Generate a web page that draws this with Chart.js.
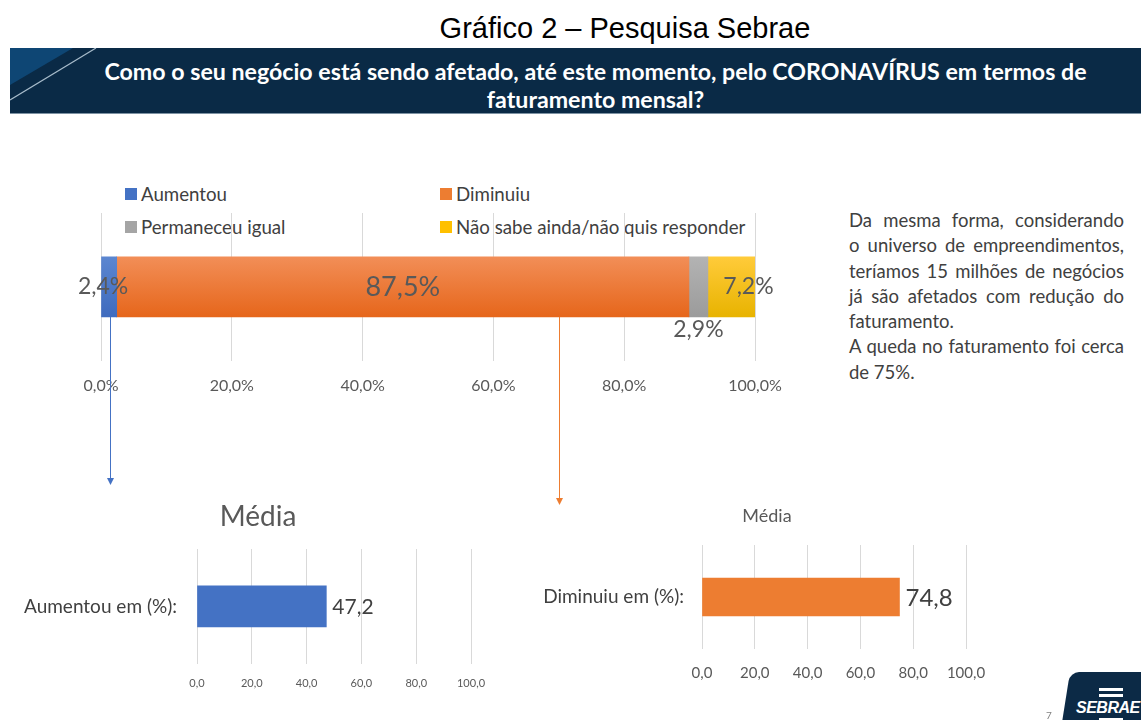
<!DOCTYPE html>
<html lang="pt-BR">
<head>
<meta charset="utf-8">
<script src="https://cdn.jsdelivr.net/npm/chart.js@4.4.1/dist/chart.umd.min.js"></script>
<style>
    body { margin: 0; width: 1141px; height: 720px; background: #fff; position: relative; overflow: hidden; font-family: Lato, sans-serif; color: #404040; }
    .abs { position: absolute; }
    #pageTitle { left: 0; top: 12px; width: 1250px; text-align: center; font: 29px "Liberation Sans", Arial, sans-serif; color: #000; }
    #banner { left: 10px; top: 48px; width: 1131px; height: 65px; background: #0a2a46; overflow: hidden; border-bottom: 1px solid #7d92a3; }
    #banner svg { position: absolute; left: 0; top: 0; }
    #banner .txt { position: absolute; left: 40px; right: 0; top: 9px; text-align: center; color: #fff; font-weight: 700; font-size: 23.2px; line-height: 28px; white-space: nowrap; }
    #legenda { left: 125px; top: 182px; display: grid; grid-template-columns: 315px 320px; row-gap: 9px; font-size: 18.7px; }
    #legenda div { display: flex; align-items: center; height: 24px; white-space: nowrap; }
    #legenda span.box { width: 12px; height: 12px; margin-right: 4px; display: inline-block; }
    #nota { left: 849px; top: 208px; width: 275px; font-size: 18.5px; line-height: 25.3px; white-space: nowrap; }
    #nota .j { text-align: justify; text-align-last: justify; }
    .media { color: #595959; text-align: center; }
    #logo { left: 1070px; top: 672px; width: 90px; height: 60px; background: #0c2a46; border-top-left-radius: 9px; transform: skewX(-9deg); transform-origin: top left; }
    .bar { background: #fff; height: 3px; }
    #sebrae { left: 1076px; top: 699px; color: #fff; font: italic 700 16px "Liberation Sans", Arial, sans-serif; letter-spacing: -0.5px; }
    #pagina { left: 1046px; top: 709px; font-size: 10px; color: #808080; }
</style>
</head>
<body>
<div id="pageTitle" class="abs">Gráfico 2 – Pesquisa Sebrae</div>
<div id="banner" class="abs">
    <svg width="120" height="65">
        <polygon points="0,0 63,0 0,37" fill="#0e4674"/>
        <line x1="0" y1="52" x2="86" y2="0" stroke="#a8bccb" stroke-width="1.2"/>
    </svg>
    <div class="txt">Como o seu negócio está sendo afetado, até este momento, pelo CORONAVÍRUS em termos de<br>faturamento mensal?</div>
</div>
<div id="legenda" class="abs"></div>
<div id="nota" class="abs">
    <div class="j">Da mesma forma, considerando</div>
    <div class="j">o universo de empreendimentos,</div>
    <div class="j">teríamos 15 milhões de negócios</div>
    <div class="j">já são afetados com redução do</div>
    <div>faturamento.</div>
    <div class="j">A queda no faturamento foi cerca</div>
    <div>de 75%.</div>
</div>

<canvas id="principal" class="abs" style="left:0;top:170px" width="800" height="350"></canvas>
<div class="abs media" style="left:0;top:498px;width:516px;font-size:28px;line-height:34px">Média</div>
<div class="abs media" style="left:540px;top:504px;width:454px;font-size:18px;line-height:22px">Média</div>
<canvas id="mediaAum" class="abs" style="left:0;top:495px" width="516" height="225"></canvas>
<canvas id="mediaDim" class="abs" style="left:520px;top:495px" width="494" height="225"></canvas>

<div id="pagina" class="abs">7</div>
<div id="logo" class="abs"></div>
<div class="abs bar" style="left:1099px;top:688px;width:24px"></div>
<div class="abs bar" style="left:1099px;top:694px;width:24px"></div>
<div id="sebrae" class="abs">SEBRAE</div>
<div class="abs bar" style="left:1099px;top:718px;width:24px"></div>

<script>
const categorias = ['Aumentou', 'Diminuiu', 'Permaneceu igual', 'Não sabe ainda/não quis responder'];
const percentuais = [2.4, 87.5, 2.9, 7.2];
const ticksPct = [0, 20, 40, 60, 80, 100];

const aumentouLabel = ['Aumentou em (%):'];
const aumentouMedia = [47.2];
const diminuiuLabel = ['Diminuiu em (%):'];
const diminuiuMedia = [74.8];

// onde saem as setas (em % do eixo)
const setas = [1.3, 70];

const cores = ['#4472C4', '#ED7D31', '#A5A5A5', '#FFC000'];
const claros = ['#5B86D0', '#F28E57', '#B3B3B3', '#FFCB3A'];
const escuros = ['#3F6BBE', '#E6661B', '#9B9B9B', '#E8B300'];

Chart.defaults.font.family = 'Lato';
Chart.defaults.color = '#595959';

function fmt(v) {
    return v.toFixed(1).replace('.', ',');
}

// legenda em duas colunas
const legenda = document.getElementById('legenda');
categorias.forEach((c, i) => {
    const item = document.createElement('div');
    item.innerHTML = `<span class="box" style="background:${cores[i]}"></span>${c}`;
    legenda.appendChild(item);
});

function gradiente(ctx, i) {
    const chart = ctx.chart;
    const a = chart.chartArea;
    if (!a) return cores[i];
    const yc = (a.top + a.bottom) / 2;
    const g = chart.ctx.createLinearGradient(0, yc - 30, 0, yc + 30);
    g.addColorStop(0, claros[i]);
    g.addColorStop(1, escuros[i]);
    return g;
}

const rotulosPrincipal = {
    id: 'rotulosPrincipal',
    afterDatasetsDraw(chart) {
        const c = chart.ctx;
        c.save();
        c.fillStyle = '#595959';
        c.textAlign = 'center';
        c.textBaseline = 'middle';
        chart.data.datasets.forEach((ds, i) => {
            const bar = chart.getDatasetMeta(i).data[0];
            let x = (bar.x + bar.base) / 2, y = bar.y, size = 23;
            if (i === 0) x -= 6;
            if (i === 1) size = 27;
            if (i === 2) y += bar.height / 2 + 13;
            if (i === 3) x += 17;
            c.font = size + 'px Lato';
            c.fillText(fmt(ds.data[0]) + '%', x, y);
        });
        c.restore();
    }
};

const setasPlugin = {
    id: 'setas',
    afterDraw(chart) {
        const c = chart.ctx;
        const bar = chart.getDatasetMeta(0).data[0];
        const y0 = bar.y + bar.height / 2;
        [[setas[0], cores[0], 315], [setas[1], cores[1], 335]].forEach(([v, cor, y1]) => {
            const x = Math.round(chart.scales.x.getPixelForValue(v)) + 0.5;
            c.save();
            c.strokeStyle = cor;
            c.fillStyle = cor;
            c.lineWidth = 1;
            c.beginPath();
            c.moveTo(x, y0);
            c.lineTo(x, y1 - 6);
            c.stroke();
            c.beginPath();
            c.moveTo(x - 3.5, y1 - 7);
            c.lineTo(x + 3.5, y1 - 7);
            c.lineTo(x, y1);
            c.closePath();
            c.fill();
            c.restore();
        });
    }
};

new Chart(document.getElementById('principal'), {
    type: 'bar',
    data: {
        labels: [''],
        datasets: categorias.map((c, i) => ({
            label: c,
            data: [percentuais[i]],
            backgroundColor: ctx => gradiente(ctx, i),
            borderWidth: 0,
            barThickness: 60
        }))
    },
    options: {
        indexAxis: 'y',
        responsive: false,
        animation: false,
        layout: { padding: { left: 101, right: 45, top: 43, bottom: 110 } },
        plugins: { legend: { display: false }, tooltip: { enabled: false } },
        scales: {
            x: {
                stacked: true, min: 0, max: 100,
                afterBuildTicks: axis => { axis.ticks = ticksPct.map(v => ({ value: v })); },
                grid: { color: '#D9D9D9', drawTicks: false },
                border: { display: false },
                ticks: { padding: 15, font: { size: 16 }, callback: v => fmt(v) + '%' }
            },
            y: { stacked: true, display: false }
        }
    },
    plugins: [rotulosPrincipal, setasPlugin]
});

function valorPlugin(size) {
    return {
        id: 'valor',
        afterDatasetsDraw(chart) {
            const c = chart.ctx;
            const bar = chart.getDatasetMeta(0).data[0];
            c.save();
            c.fillStyle = '#404040';
            c.font = size + 'px Lato';
            c.textAlign = 'left';
            c.textBaseline = 'middle';
            c.fillText(fmt(chart.data.datasets[0].data[0]), bar.x + 6, bar.y + 1);
            c.restore();
        }
    };
}

function mediaChart(id, labels, valores, i, o) {
    return new Chart(document.getElementById(id), {
        type: 'bar',
        data: {
            labels: labels,
            datasets: [{ data: valores, backgroundColor: cores[i], borderWidth: 0, barThickness: o.thick }]
        },
        options: {
            indexAxis: 'y',
            responsive: false,
            animation: false,
            layout: { padding: { left: 0, right: o.padR, top: o.padT, bottom: o.padB } },
            plugins: { legend: { display: false }, tooltip: { enabled: false } },
            scales: {
                x: {
                    min: 0, max: 100,
                    afterBuildTicks: axis => { axis.ticks = ticksPct.map(v => ({ value: v })); },
                    grid: { color: '#D9D9D9', drawTicks: false },
                    border: { display: false },
                    ticks: { padding: o.tickPad, font: { size: o.tickSize }, callback: v => fmt(v) }
                },
                y: {
                    afterFit: axis => { axis.width = o.yWidth; },
                    grid: { display: false, drawTicks: false },
                    border: { display: false },
                    ticks: { padding: o.labelPad, color: '#404040', font: { size: 19 } }
                }
            }
        },
        plugins: [valorPlugin(o.valueSize)]
    });
}

mediaChart('mediaAum', aumentouLabel, aumentouMedia, 0, {
    thick: 41, padR: 45, padT: 54, padB: 17, yWidth: 197, labelPad: 20,
    tickPad: 13, tickSize: 11, valueSize: 21
});

mediaChart('mediaDim', diminuiuLabel, diminuiuMedia, 1, {
    thick: 38, padR: 48, padT: 50, padB: 23, yWidth: 182, labelPad: 18,
    tickPad: 15, tickSize: 15, valueSize: 24
});
</script>
</body>
</html>
